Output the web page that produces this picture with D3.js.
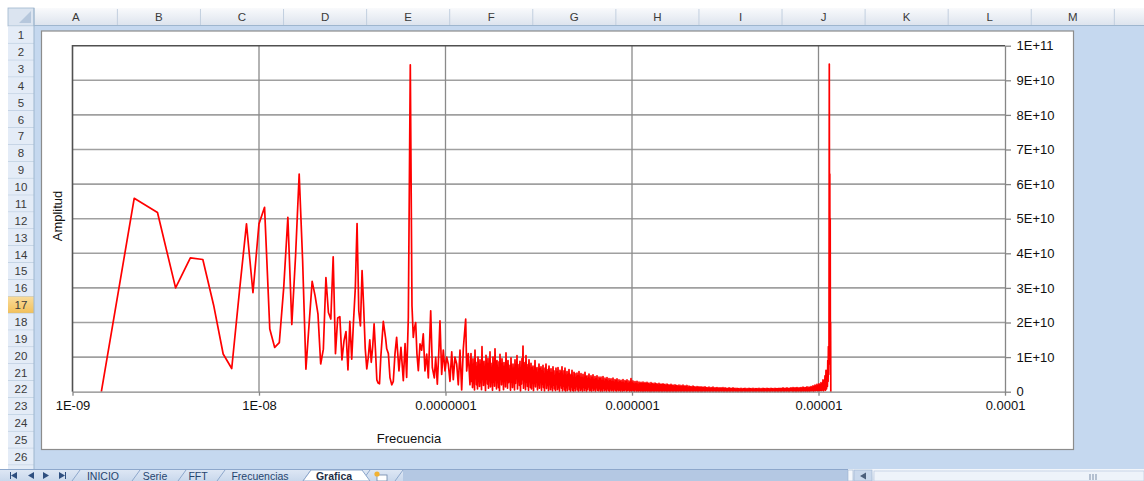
<!DOCTYPE html>
<html>
<head>
<meta charset="utf-8">
<script src="https://cdnjs.cloudflare.com/ajax/libs/d3/7.8.5/d3.min.js"></script>
<style>
	body { margin: 0; background: #fff; overflow: hidden; }
	svg { display: block; }
</style>
</head>
<body>
<svg id="sheet" width="1144" height="481"></svg>
<script>

/*
	Run the action when we are sure the DOM has been loaded
*/
function whenDocumentLoaded(action) {
	if (document.readyState === "loading") {
		document.addEventListener("DOMContentLoaded", action);
	} else {
		action();
	}
}

// FFT spectrum
// first bins, one value per bin (amplitude x 1e10)
const BIN_WIDTH = 7.14e-10;
const LOW_FIRST_BIN = 2;
const LOW_AMP = [0, 5.59, 5.18, 3.0, 3.87, 3.82, 2.5, 1.09, 0.67, 2.9,
	4.85, 2.86, 4.85, 5.33, 1.81, 1.28, 1.42, 3.0, 5.04, 1.94,
	3.93, 6.29, 3.79, 0.65, 1.96, 3.19, 2.77, 2.25, 0.8, 1.23,
	3.3, 2.29, 2.1, 3.9, 1.1, 2.13, 2.17, 0.92, 1.47, 1.74,
	0.63, 2.03, 0.94, 2.05, 3.0, 4.86, 2.34, 1.9, 3.5, 2.44,
	1.24, 0.66, 1.0, 1.5, 0.85, 1.3, 1.96, 1.2, 0.34, 0.25,
	0.23, 1.0];

// middle part (frequency x 1e-9, amplitude x 1e10)
const MID_FREQ = [46.4, 47.8, 48.4, 49.4, 50.4, 51.5, 52.5, 53.6, 54.7, 56.3,
	57.7, 59.4, 60.7, 61.9, 63.2, 64.75, 66.1, 67.2, 68.0, 69.2,
	70.3, 71.5, 73.0, 74.5, 76.0, 77.6, 79.3, 80.9, 83.3, 85.0,
	87.1, 88.6, 90.4, 92.3, 93.4, 95.4, 97.3, 99.4, 101.5, 103.5,
	105.7, 108.0, 110.1, 112.4, 114.8, 117.1, 119.6, 122.1, 124.6, 128.3,
	129.9, 132.5, 135.3];
const MID_AMP = [2.03, 1.52, 1.24, 1.1, 0.4, 0.2, 0.3, 1.1, 1.57, 0.6,
	1.28, 0.32, 1.39, 0.41, 2.15, 9.45, 2.49, 1.57, 1.81, 2.0,
	1.09, 0.61, 1.38, 1.2, 1.67, 0.6, 1.09, 0.4, 2.34, 0.7,
	0.4, 0.99, 0.22, 1.28, 2.05, 0.5, 1.2, 0.6, 1.0, 0.8,
	0.3, 1.15, 0.35, 1.0, 0.8, 0.2, 1.2, 0.05, 1.25, 2.1,
	0.6, 1.1, 0.2];

// dense part: upper and lower edge of the noise band (amplitude x 1e8),
// samples evenly spread on the log axis between the two frequencies
const DENSE_FREQ_FROM = 1.370e-7;
const DENSE_FREQ_TO = 1.097e-5;
const DENSE_PEAKS = [
	110, 62, 95, 48, 120, 85, 70, 100, 55, 92,
	78, 130, 66, 88, 52, 105, 74, 96, 60, 115,
	82, 58, 100, 70, 124, 64, 90, 50, 86, 108,
	72, 95, 56, 84, 68, 112, 62, 90, 76, 54,
	98, 66, 80, 58, 92, 72, 104, 60, 78, 88,
	64, 96, 132, 70, 84, 104, 58, 78, 92, 62,
	82, 68, 74, 56, 90, 64, 70, 52, 80, 66,
	72, 58, 76, 50, 68, 80, 56, 64, 74, 48,
	66, 52, 72, 60, 46, 68, 56, 70, 50, 62,
	55, 72, 44, 60, 68, 40, 58, 48, 64, 50,
	46, 62, 40, 56, 52, 38, 54, 44, 58, 36,
	52, 40, 50, 34, 56, 42, 46, 36, 51, 33,
	46, 38, 49, 32, 44, 36, 46, 30, 42, 35,
	42, 31, 44, 29, 39, 33, 41, 28, 38, 31,
	37, 28, 39, 26, 35, 30, 37, 25, 34, 28,
	33, 25, 35, 23, 32, 26, 34, 22, 31, 25,
	38, 24, 31, 21, 29, 23, 30, 20, 28, 22,
	27, 22, 28, 23, 26, 21, 27, 22, 25, 20,
	26, 21, 24, 19, 25, 22, 23, 18, 24, 20,
	22, 18, 23, 19, 21, 17, 22, 18, 20, 16,
	21, 17, 19, 15, 20, 16, 18, 15, 19, 14,
	18, 14, 19, 13, 17, 14, 18, 12, 16, 13,
	15, 12, 16, 13, 14, 11, 15, 12, 14, 11,
	14, 11, 13, 10, 14, 11, 12, 10, 13, 9,
	12, 10, 13, 9, 11, 10, 12, 9, 11, 9,
	11, 9, 12, 8, 11, 9, 10, 8, 11, 9,
	10, 8, 11, 8, 10, 7, 10, 8, 9, 7,
	10, 7, 9, 8, 10, 7, 9, 7, 10, 8,
	9, 7, 10, 7, 9, 8, 9, 7, 10, 7,
	9, 7, 10, 8, 9, 7, 10, 8, 9, 7,
	10, 8, 9, 7, 10, 8, 9, 8, 10, 8,
	10, 8, 11, 8, 10, 9, 11, 8, 10, 9,
	11, 9, 12, 9, 11, 10, 12, 9, 11, 10,
	12, 10, 13, 10, 12, 11, 14, 10, 13, 11,
	15, 12, 17, 14, 19, 15, 21, 17, 23, 19,
	26, 22, 34, 30, 46, 62];
const DENSE_TROUGHS = [
	30, 12, 45, 5, 38, 20, 8, 52, 15, 26,
	6, 40, 18, 32, 3, 48, 22, 10, 35, 14,
	42, 4, 28, 16, 55, 8, 34, 12, 3, 40,
	20, 44, 6, 30, 14, 50, 10, 26, 36, 4,
	28, 12, 40, 5, 24, 38, 8, 30, 18, 2,
	22, 35, 10, 40, 6, 28, 15, 4, 32, 12,
	8, 30, 3, 24, 14, 36, 5, 20, 10, 28,
	4, 22, 12, 2, 30, 9, 18, 3, 26, 6,
	14, 2, 20, 8, 3, 24, 6, 12, 1, 18,
	10, 2, 16, 5, 1, 12, 3, 18, 6, 1,
	14, 4, 1, 10, 2, 15, 5, 1, 12, 3,
	8, 1, 13, 3, 10, 1, 6, 14, 2, 5,
	1, 11, 3, 8, 1, 12, 4, 2, 9, 1,
	6, 1, 10, 2, 7, 1, 9, 3, 1, 8,
	2, 6, 1, 8, 3, 1, 7, 2, 5, 1,
	6, 1, 4, 2, 7, 1, 3, 5, 1, 4,
	1, 5, 2, 1, 6, 1, 3, 1, 4, 1,
	2, 1, 1, 2, 1, 3, 1, 2, 1, 1,
	1, 2, 1, 1, 2, 1, 2, 1, 1, 2,
	1, 1, 2, 1, 2, 1, 1, 2, 1, 1,
	2, 1, 1, 2, 1, 1, 2, 1, 2, 1,
	1, 2, 1, 1, 2, 1, 1, 2, 1, 1,
	2, 1, 1, 2, 1, 2, 1, 1, 2, 1,
	1, 1, 2, 1, 1, 2, 1, 2, 1, 1,
	2, 1, 1, 2, 1, 1, 2, 1, 1, 2,
	1, 2, 1, 1, 2, 1, 1, 2, 1, 1,
	2, 1, 1, 2, 1, 2, 1, 1, 2, 1,
	1, 1, 2, 1, 1, 2, 1, 2, 1, 1,
	2, 1, 1, 2, 1, 1, 2, 1, 1, 2,
	1, 2, 1, 1, 2, 1, 1, 2, 1, 1,
	2, 1, 2, 1, 1, 2, 1, 1, 2, 1,
	1, 2, 1, 1, 2, 1, 2, 1, 1, 2,
	2, 1, 1, 2, 1, 1, 2, 1, 2, 1,
	1, 2, 1, 2, 1, 2, 1, 2, 1, 2,
	2, 3, 1, 3, 2, 4, 2, 3, 2, 4,
	3, 5, 2, 6, 4, 8];

// last peaks near the end of the spectrum (frequency x 1e-5, amplitude x 1e10)
const TAIL_FREQ = [1.1065, 1.1106, 1.1161, 1.1216, 1.1258, 1.1300, 1.1342, 1.1384,
	1.1426, 1.1468, 1.1497, 1.1525, 1.1554, 1.1583, 1.1611, 1.1640];
const TAIL_AMP = [0.2, 0.62, 0.15, 0.9, 0.3, 1.3, 0.5, 1.2,
	9.47, 2.0, 6.29, 1.5, 5.0, 0.8, 2.0, 0.0];

const X_TICKS = [1e-9, 1e-8, 1e-7, 1e-6, 1e-5, 1e-4];
const X_TICK_LABELS = ['1E-09', '1E-08', '0.0000001', '0.000001', '0.00001', '0.0001'];
const Y_TICKS = [0, 1e10, 2e10, 3e10, 4e10, 5e10, 6e10, 7e10, 8e10, 9e10, 1e11];
const Y_TICK_LABELS = ['0', '1E+10', '2E+10', '3E+10', '4E+10', '5E+10', '6E+10', '7E+10', '8E+10', '9E+10', '1E+11'];
const X_TITLE = 'Frecuencia';
const Y_TITLE = 'Amplitud';

const COLUMNS = ['A', 'B', 'C', 'D', 'E', 'F', 'G', 'H', 'I', 'J', 'K', 'L', 'M'];
const ROW_COUNT = 27;
const ACTIVE_ROW = 17;
const SHEET_TABS = ['INICIO', 'Serie', 'FFT', 'Frecuencias', 'Grafica'];
const ACTIVE_TAB = 'Grafica';

const FONT = "'Liberation Sans', Arial, sans-serif";


class Sheet {
	constructor(svgId) {
		this.svg = d3.select(`#${svgId}`);
	}

	show() {
		const svg = this.svg;
		const defs = svg.append('defs');
		const grad = (id, c1, c2) => {
			const g = defs.append('linearGradient').attr('id', id)
				.attr('x1', 0).attr('y1', 0).attr('x2', 0).attr('y2', 1);
			g.append('stop').attr('offset', '0%').attr('stop-color', c1);
			g.append('stop').attr('offset', '100%').attr('stop-color', c2);
		};
		grad('colHead', '#f9fafc', '#dce3ed');
		grad('rowActive', '#f9dc9b', '#f2c05a');
		grad('tabBar', '#dfe8f5', '#c9d8ec');
		grad('scroll', '#f4f7fb', '#dae4f1');

		// cells (all selected, light blue)
		svg.append('rect').attr('x', 34).attr('y', 26).attr('width', 1110).attr('height', 444)
			.attr('fill', '#c5d8ef');

		// column headers
		const colW = 83.08;
		svg.append('rect').attr('x', 34).attr('y', 8).attr('width', 1110).attr('height', 18)
			.attr('fill', 'url(#colHead)');
		COLUMNS.forEach((c, i) => {
			const x = 34.3 + i * colW;
			svg.append('line').attr('x1', x + colW).attr('x2', x + colW).attr('y1', 9).attr('y2', 25)
				.attr('stroke', '#c2cfdf');
			svg.append('text').attr('x', x + colW / 2).attr('y', 21)
				.attr('text-anchor', 'middle').attr('font-family', FONT).attr('font-size', 11.5)
				.attr('fill', '#3a3a3a').text(c);
		});
		svg.append('line').attr('x1', 8).attr('x2', 1144).attr('y1', 25.5).attr('y2', 25.5)
			.attr('stroke', '#9eb6ce');

		// corner box
		svg.append('rect').attr('x', 8).attr('y', 8).attr('width', 26).attr('height', 18)
			.attr('fill', '#dbe4f0').attr('stroke', '#9eb6ce').attr('stroke-width', 0.8);
		svg.append('path').attr('d', 'M31,11 L31,23 L19,23 Z').attr('fill', '#b6c7dc');

		// row headers
		const rowH = 16.87;
		for (let r = 1; r <= ROW_COUNT; r++) {
			const y = 26.6 + (r - 1) * rowH;
			svg.append('rect').attr('x', 8).attr('y', y).attr('width', 26).attr('height', rowH)
				.attr('fill', r === ACTIVE_ROW ? 'url(#rowActive)' : '#e4ecf7');
			svg.append('line').attr('x1', 8).attr('x2', 34).attr('y1', y + rowH).attr('y2', y + rowH)
				.attr('stroke', '#9eb6ce').attr('stroke-width', 0.8);
			svg.append('text').attr('x', 21).attr('y', y + 12.6)
				.attr('text-anchor', 'middle').attr('font-family', FONT).attr('font-size', 11.5)
				.attr('fill', '#3a3a3a').text(r);
		}
		svg.append('line').attr('x1', 34).attr('x2', 34).attr('y1', 8).attr('y2', 470)
			.attr('stroke', '#9eb6ce');

		// sheet tabs bar
		svg.append('rect').attr('x', 0).attr('y', 469).attr('width', 848).attr('height', 12)
			.attr('fill', '#b4c8e3');
		svg.append('rect').attr('x', 0).attr('y', 469).attr('width', 403).attr('height', 12)
			.attr('fill', 'url(#tabBar)');
		svg.append('line').attr('x1', 0).attr('x2', 1144).attr('y1', 469.5).attr('y2', 469.5)
			.attr('stroke', '#8da7cb');
		// navigation arrows
		[[14, -1, true], [31, -1, false], [46, 1, false], [62, 1, true]].forEach(([x, dir, bar]) => {
			svg.append('path')
				.attr('d', `M${x - 3 * dir},472 L${x + 3 * dir},475.5 L${x - 3 * dir},479 Z`)
				.attr('fill', '#2f4f7f');
			if (bar) {
				svg.append('line').attr('x1', x + 3.5 * dir).attr('x2', x + 3.5 * dir)
					.attr('y1', 472).attr('y2', 479).attr('stroke', '#2f4f7f');
			}
		});
		const tabCenters = [103, 155, 198, 260, 334];
		const tabEdges = [72, 132, 178, 217, 303, 362];
		tabEdges.forEach((x) => {
			svg.append('line').attr('x1', x).attr('x2', x + 8).attr('y1', 481).attr('y2', 470)
				.attr('stroke', '#8da7cb');
		});
		svg.append('path').attr('d', 'M303,481 L311,470 L362,470 L370,481 Z').attr('fill', '#fff')
			.attr('stroke', '#8da7cb');
		SHEET_TABS.forEach((t, i) => {
			svg.append('text').attr('x', tabCenters[i]).attr('y', 480.3)
				.attr('text-anchor', 'middle').attr('font-family', FONT).attr('font-size', 10.5)
				.attr('font-weight', t === ACTIVE_TAB ? 'bold' : 'normal')
				.attr('fill', t === ACTIVE_TAB ? '#1e2e45' : '#26456f').text(t);
		});
		// insert sheet icon
		svg.append('line').attr('x1', 395).attr('x2', 403).attr('y1', 481).attr('y2', 470)
			.attr('stroke', '#8da7cb');
		svg.append('rect').attr('x', 377).attr('y', 475).attr('width', 10).attr('height', 6)
			.attr('fill', '#fff').attr('stroke', '#6d86a8').attr('stroke-width', 0.8);
		svg.append('circle').attr('cx', 377).attr('cy', 474).attr('r', 2.6).attr('fill', '#f2b233');

		// horizontal scroll bar
		svg.append('rect').attr('x', 848).attr('y', 469).attr('width', 296).attr('height', 12)
			.attr('fill', 'url(#scroll)');
		svg.append('rect').attr('x', 848).attr('y', 470).attr('width', 5).attr('height', 11)
			.attr('fill', '#f4f7fb').attr('stroke', '#9cb2cf').attr('stroke-width', 0.6);
		svg.append('rect').attr('x', 854).attr('y', 470).attr('width', 18).attr('height', 11)
			.attr('fill', '#c9d8ec').attr('stroke', '#9cb2cf').attr('stroke-width', 0.6);
		svg.append('path').attr('d', 'M860,476 L866,472.5 L866,479.5 Z').attr('fill', '#4b5f7c');
		svg.append('rect').attr('x', 874).attr('y', 471).attr('width', 270).attr('height', 10)
			.attr('fill', '#eef3fa').attr('stroke', '#b2c4dc').attr('stroke-width', 0.6);
		[1090, 1093, 1096].forEach((x) => {
			svg.append('line').attr('x1', x).attr('x2', x).attr('y1', 474).attr('y2', 480)
				.attr('stroke', '#7a8da8');
		});
	}
}


class SpectrumChart {
	constructor(svgId, data) {
		this.svg = d3.select(`#${svgId}`);
		this.data = data;
		this.scale = {};
		this.scale.x = d3.scaleLog()
			.domain([X_TICKS[0], X_TICKS[X_TICKS.length - 1]])
			.range([72.5, 1005]);
		this.scale.y = d3.scaleLinear()
			.domain([Y_TICKS[0], Y_TICKS[Y_TICKS.length - 1]])
			.range([391.7, 45.7]);
	}

	show() {
		const svg = this.svg;
		const x = this.scale.x;
		const y = this.scale.y;
		const [x0, x1] = x.range();
		const [y0, y1] = y.range();

		// chart area
		svg.append('rect').attr('x', 41.5).attr('y', 31).attr('width', 1032).attr('height', 418.5)
			.attr('fill', '#fff').attr('stroke', '#8c8c8c').attr('stroke-width', 1.2);

		// gridlines
		svg.append('g').selectAll('line')
			.data(Y_TICKS.slice(1, -1))
			.enter()
			.append('line')
			.attr('x1', x0).attr('x2', x1)
			.attr('y1', (d) => y(d)).attr('y2', (d) => y(d))
			.attr('stroke', '#a0a0a0').attr('stroke-width', 1.6);
		svg.append('g').selectAll('line')
			.data(X_TICKS.slice(1, -1))
			.enter()
			.append('line')
			.attr('x1', (d) => x(d)).attr('x2', (d) => x(d))
			.attr('y1', y1).attr('y2', y0)
			.attr('stroke', '#8a8a8a').attr('stroke-width', 1.3);

		// plot area top and left edges
		svg.append('path').attr('d', `M${x0},${y0} L${x0},${y1} L${x1},${y1}`)
			.attr('fill', 'none').attr('stroke', '#505050').attr('stroke-width', 1.6);

		// spectrum
		const line = d3.line()
			.x((d) => x(d.f))
			.y((d) => y(d.a));
		svg.append('path')
			.datum(this.data)
			.attr('d', line)
			.attr('fill', 'none')
			.attr('stroke', '#ff0000')
			.attr('stroke-width', 1.7)
			.attr('stroke-linejoin', 'round');

		// axes
		const xAxis = d3.axisBottom(x)
			.tickValues(X_TICKS)
			.tickFormat((d, i) => X_TICK_LABELS[i])
			.tickSize(4)
			.tickSizeOuter(0)
			.tickPadding(5.5);
		const yAxis = d3.axisRight(y)
			.tickValues(Y_TICKS)
			.tickFormat((d, i) => Y_TICK_LABELS[i])
			.tickSize(6)
			.tickSizeOuter(0)
			.tickPadding(5.5);
		const gx = svg.append('g').attr('transform', `translate(0,${y0})`).call(xAxis);
		const gy = svg.append('g').attr('transform', `translate(${x1},0)`).call(yAxis);
		[gx, gy].forEach((g) => {
			g.select('.domain').attr('stroke', '#868686').attr('stroke-width', 1.3);
			g.selectAll('.tick line').attr('stroke', '#868686').attr('stroke-width', 1.3);
			g.selectAll('.tick text').attr('font-family', FONT).attr('font-size', 13).attr('fill', '#111');
		});

		// titles
		svg.append('text').attr('x', 409).attr('y', 443)
			.attr('text-anchor', 'middle').attr('font-family', FONT).attr('font-size', 13)
			.attr('fill', '#111').text(X_TITLE);
		svg.append('text').attr('transform', 'translate(61.5,216) rotate(-90)')
			.attr('text-anchor', 'middle').attr('font-family', FONT).attr('font-size', 13)
			.attr('fill', '#111').text(Y_TITLE);
	}
}


whenDocumentLoaded(() => {
	// prepare the data here
	const data = [];
	LOW_AMP.forEach((a, i) => data.push({ f: (LOW_FIRST_BIN + i) * BIN_WIDTH, a: a * 1e10 }));
	MID_FREQ.forEach((f, i) => data.push({ f: f * 1e-9, a: MID_AMP[i] * 1e10 }));
	const n = DENSE_PEAKS.length;
	const ratio = DENSE_FREQ_TO / DENSE_FREQ_FROM;
	DENSE_PEAKS.forEach((p, i) => {
		data.push({ f: DENSE_FREQ_FROM * Math.pow(ratio, i / (n - 1)), a: p * 1e8 });
		data.push({ f: DENSE_FREQ_FROM * Math.pow(ratio, (i + 0.5) / (n - 1)), a: DENSE_TROUGHS[i] * 1e8 });
	});
	TAIL_FREQ.forEach((f, i) => data.push({ f: f * 1e-5, a: TAIL_AMP[i] * 1e10 }));

	const sheet = new Sheet('sheet');
	sheet.show();

	const chart = new SpectrumChart('sheet', data);
	chart.show();
});

</script>
</body>
</html>
